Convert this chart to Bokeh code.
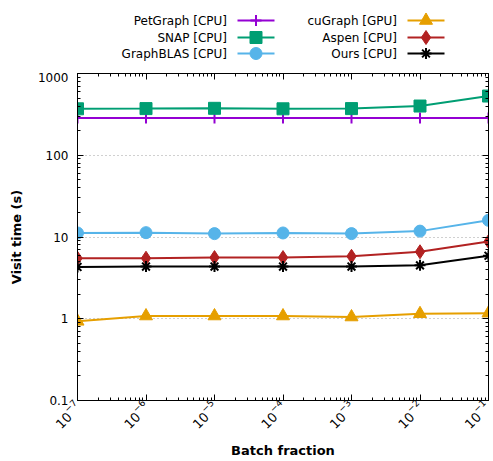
from bokeh.plotting import figure
from bokeh.layouts import column
from bokeh.models import FixedTicker, LogTickFormatter, LogAxis, ColumnDataSource, CustomJSTickFormatter
from bokeh.core.properties import value
from bokeh.embed import file_html
from bokeh.resources import INLINE

batch = [1e-7, 1e-6, 1e-5, 1e-4, 1e-3, 1e-2, 1e-1]
petgraph = [285, 285, 285, 285, 285, 285, 285]
snap = [370, 372, 375, 370, 372, 400, 530]
graphblas = [11.2, 11.3, 11.0, 11.2, 11.0, 11.8, 16.0]
cugraph = [0.93, 1.08, 1.08, 1.08, 1.05, 1.15, 1.17]
aspen = [5.5, 5.5, 5.6, 5.6, 5.8, 6.6, 8.8]
ours = [4.3, 4.35, 4.35, 4.35, 4.35, 4.5, 5.9]

names = ["PetGraph [CPU]", "SNAP [CPU]", "GraphBLAS [CPU]", "cuGraph [GPU]", "Aspen [CPU]", "Ours [CPU]"]
series = [petgraph, snap, graphblas, cugraph, aspen, ours]
colors = ["#9400d3", "#009e73", "#56b4e9", "#e69f00", "#b22222", "#000000"]
markers = ["cross", "square", "circle", "triangle", "diamond", "asterisk"]
msizes = [11, 12, 12, 13, 14, 11]

y_major = [0.1, 1, 10, 100, 1000]
FONT = "DejaVu Sans"

W = 491
FL, FR = 77, 488   # frame left / right on the page

# ---------- legend figure (frame is aligned with the main frame) ----------
LH = 72
leg = figure(width=W, height=LH, x_range=(FL, FR), y_range=(0, LH),
             output_backend="svg", toolbar_location=None, min_border=0,
             x_axis_location=None, y_axis_location=None)
leg.grid.visible = False
leg.outline_line_color = None
row_y = [LH - 20, LH - 37, LH - 53]
col_text_x = [226.5, 396.5]
for i, (nm, col, mk, ms) in enumerate(zip(names, colors, markers, msizes)):
    c, r = divmod(i, 3)
    ty = row_y[r]
    tx = col_text_x[c]
    leg.text(x=[tx], y=[ty], text=[nm], text_align="right", text_baseline="middle",
             text_font=value(FONT), text_font_size="12px", text_color="#000000")
    leg.line(x=[tx + 10.5, tx + 47.5], y=[ty, ty], line_color=col, line_width=2)
    leg.scatter(x=[tx + 29], y=[ty], marker=mk, size=ms, fill_color=col,
                line_color=col, line_width=2 if mk in ("cross", "asterisk") else 1)

# ---------- main figure ----------
p = figure(width=W, height=388, x_axis_type="log", y_axis_type="log",
           x_range=(1e-7, 1e-1), y_range=(0.1, 1000),
           output_backend="svg", toolbar_location=None,
           min_border_left=FL, min_border_right=W - FR, min_border_top=1, min_border_bottom=54)
p.outline_line_color = "#000000"
p.outline_line_width = 1

x_minor = [m * b for b in batch[:-1] for m in range(2, 10)]
y_minor = [m * b for b in y_major[:-1] for m in range(2, 10)]

p.xaxis.ticker = FixedTicker(ticks=batch, minor_ticks=x_minor)
p.yaxis.ticker = FixedTicker(ticks=y_major, minor_ticks=y_minor)
p.xaxis.formatter = LogTickFormatter()
p.yaxis.major_label_overrides = {0.1: "0.1", 1: "1", 10: "10", 100: "100", 1000: "1000"}
p.xaxis.major_label_orientation = 0.785398
p.xgrid.visible = False
p.ygrid.ticker = FixedTicker(ticks=[1, 10, 100])
p.ygrid.grid_line_color = "#a0a0a0"
p.ygrid.grid_line_dash = "1 3"
p.ygrid.grid_line_width = 1

for ax in (p.xaxis[0], p.yaxis[0]):
    ax.major_tick_in = 6
    ax.major_tick_out = 0
    ax.minor_tick_in = 3
    ax.minor_tick_out = 0
    ax.axis_line_color = "#000000"
    ax.major_tick_line_color = "#000000"
    ax.minor_tick_line_color = "#000000"
    ax.major_label_text_font = FONT
    ax.major_label_text_font_size = "13px"
    ax.major_label_text_color = "#000000"
    ax.axis_label_text_font = FONT
    ax.axis_label_text_font_size = "13px"
    ax.axis_label_text_font_style = "bold"
    ax.axis_label_text_color = "#000000"
p.yaxis.major_label_text_font_size = "12px"
p.xaxis.axis_label = "Batch fraction"
p.yaxis.axis_label = "Visit time (s)"
p.xaxis.major_label_standoff = 3
p.yaxis.major_label_standoff = 9
p.xaxis.axis_label_standoff = 5
p.yaxis.axis_label_standoff = 11

# mirrored axes (ticks only)
blank = CustomJSTickFormatter(code="return ''")
top = LogAxis(ticker=FixedTicker(ticks=batch, minor_ticks=x_minor), formatter=blank)
right = LogAxis(ticker=FixedTicker(ticks=y_major, minor_ticks=y_minor), formatter=blank)
for ax in (top, right):
    ax.major_tick_in = 6
    ax.major_tick_out = 0
    ax.minor_tick_in = 3
    ax.minor_tick_out = 0
    ax.major_label_standoff = 0
    ax.axis_line_color = "#000000"
p.add_layout(top, "above")
p.add_layout(right, "right")

for nm, vals, col, mk, ms in zip(names, series, colors, markers, msizes):
    src = ColumnDataSource(dict(x=batch, y=vals))
    p.line("x", "y", source=src, line_color=col, line_width=2)
    p.scatter("x", "y", source=src, marker=mk, size=ms, fill_color=col, line_color=col,
              line_width=2 if mk in ("cross", "asterisk") else 1)

layout = column(leg, p, spacing=0)
open("out.html", "w").write(file_html(layout, INLINE))
